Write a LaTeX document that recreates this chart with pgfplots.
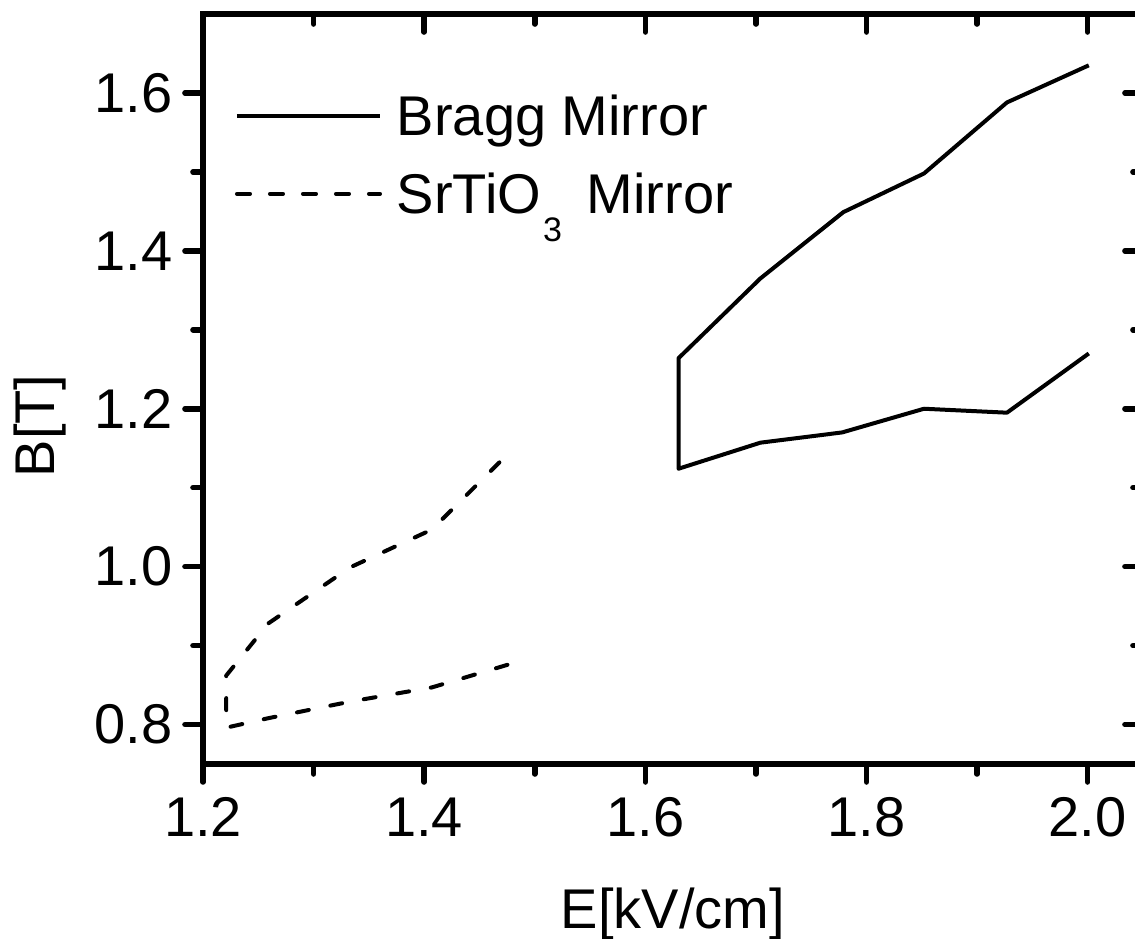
\documentclass[border=0pt]{standalone}
\usepackage{fontspec}
\setmainfont{Liberation Sans}
\usepackage{pgfplots}
\pgfplotsset{compat=1.18}
\newcommand{\ff}{\fontsize{14}{16.8}\selectfont}
\begin{document}
\begin{tikzpicture}[font=\ff]
\pgfplotsset{
  common/.style={
    scale only axis, width=235pt, height=187.5pt,
    xmin=1.2, xmax=2.05, ymin=0.75, ymax=1.70,
    xtick={1.2,1.4,1.6,1.8,2.0}, ytick={0.8,1.0,1.2,1.4,1.6},
    minor xtick={1.3,1.5,1.7,1.9}, minor ytick={0.9,1.1,1.3,1.5},
    major tick length=4.5pt, minor tick length=2.5pt,
    axis line style={line width=1.4pt, line cap=round},
    every tick/.style={black, line width=1.4pt, line cap=round},
    /pgf/number format/fixed, /pgf/number format/fixed zerofill,
    /pgf/number format/precision=1, /pgf/number format/assume math mode=true,
  }
}
\begin{axis}[common, tick align=outside, xtick pos=left, ytick pos=left,
  xticklabel style={font=\ff, anchor=north, inner sep=0pt, yshift=-3.75pt},
  yticklabel style={font=\ff, anchor=east, inner sep=0pt, xshift=-3pt},
  xlabel={E[kV/cm]}, ylabel={B[T]},
  xlabel style={font=\ff, at={(axis description cs:0.5,-0.22)}, anchor=base},
  ylabel style={font=\ff, at={(axis description cs:-0.1734,0.4507)}, anchor=center},
  legend style={draw=none, fill=none, inner sep=0pt, outer sep=0pt, font=\ff,
    at={(axis description cs:0.0319,0.892)}, anchor=north west,
    row sep=7.9pt, nodes={inner sep=0pt}, cells={anchor=base west}},
  legend image code/.code={\draw[#1] (0.5pt,5pt) -- (36.25pt,5pt); \path (0pt,0pt) (40pt,0pt);},
]
\addlegendimage{black, solid, line width=1pt}
\addlegendentry{Bragg Mirror}
\addlegendimage{black, line width=1pt, line cap=round, dash pattern=on 3.25pt off 5pt}
\addlegendentry{SrTiO\hspace{0.5pt}\raisebox{-7pt}{\fontsize{8.5}{9}\selectfont 3}\hspace{6.2pt}Mirror}
\addplot[forget plot, black, line width=1pt, line join=round] coordinates {
 (2.001,1.635) (1.927,1.588) (1.852,1.498) (1.779,1.449) (1.704,1.365) (1.630,1.264)
 (1.630,1.124) (1.704,1.157) (1.778,1.170) (1.852,1.200) (1.927,1.195) (2.001,1.270)
};
\addplot[forget plot, black, line width=1pt, line cap=round, line join=round, dash pattern=on 3pt off 5.5pt] coordinates {
 (1.468,1.132) (1.407,1.047) (1.333,0.999) (1.259,0.928) (1.221,0.862)
 (1.221,0.796) (1.259,0.808) (1.333,0.829) (1.407,0.847) (1.481,0.878)
};
\end{axis}
\begin{axis}[common, tick align=inside, xtick pos=right, ytick pos=right,
  xticklabels={}, yticklabels={}]
\end{axis}
\pgfresetboundingbox
\path[use as bounding box] (-50.75pt,-43.75pt) rectangle (233pt,191pt);
\end{tikzpicture}
\end{document}
